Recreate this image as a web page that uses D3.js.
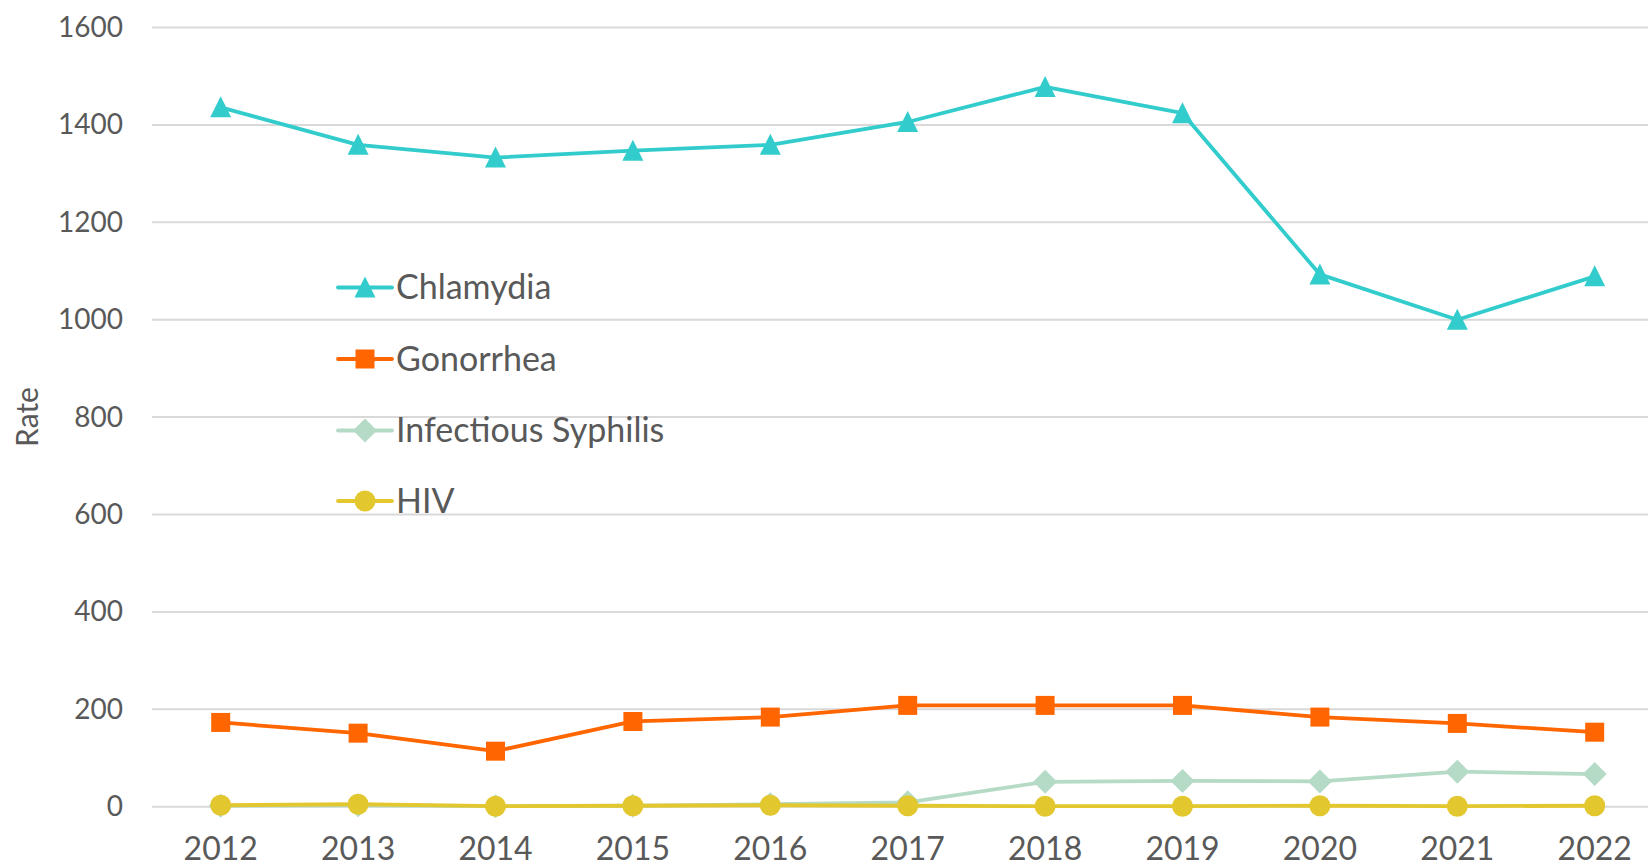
<!DOCTYPE html>
<html lang="en">
<head>
  <meta charset="UTF-8" />
  <title>STI Rates</title>
  <script src="https://d3js.org/d3.v7.min.js"></script>
  <style>
    html, body {
      margin: 0;
      padding: 0;
      background: #fff;
      overflow: hidden;
    }
    svg {
      display: block;
      font-family: Lato, "Open Sans", sans-serif;
    }
  </style>
</head>
<body>
  <svg id="chart" width="1648" height="868"></svg>

  <script>
    const years = ["2012", "2013", "2014", "2015", "2016", "2017", "2018", "2019", "2020", "2021", "2022"];
    const chlamydia = [1436, 1359, 1333, 1347, 1359, 1406, 1478, 1424, 1093, 1000, 1089];
    const gonorrhea = [173, 151, 114, 175, 184, 208, 208, 208, 184, 171, 153];
    const syphilis = [2, 3, 1, 2, 5, 9, 51, 53, 52, 72, 67];
    const hiv = [3, 5, 1, 2, 3, 2, 1, 1, 2, 1, 2];
    const yTicks = [0, 200, 400, 600, 800, 1000, 1200, 1400, 1600];

    const series = [
      { name: "Chlamydia", values: chlamydia, color: "#33CCCC", symbol: "triangle" },
      { name: "Gonorrhea", values: gonorrhea, color: "#FF6600", symbol: "square" },
      { name: "Infectious Syphilis", values: syphilis, color: "#B5DBC6", symbol: "diamond" },
      { name: "HIV", values: hiv, color: "#E3C72F", symbol: "circle" }
    ];

    const svg = d3.select("#chart");
    const textColor = "#595959";

    const x = d3.scaleBand()
      .domain(years)
      .range([152, 152 + 11 * 137.4]);

    const y = d3.scaleLinear()
      .domain([0, 1600])
      .range([806.7, 27.5]);

    const cx = d => x(d) + x.bandwidth() / 2;

    // gridlines
    svg.append("g")
      .selectAll("line")
      .data(yTicks)
      .enter()
      .append("line")
      .attr("x1", 152)
      .attr("x2", 1648)
      .attr("y1", d => y(d))
      .attr("y2", d => y(d))
      .attr("stroke", "#D9D9D9")
      .attr("stroke-width", 2);

    // y axis labels
    const yAxis = svg.append("g")
      .attr("transform", "translate(152,0)")
      .call(d3.axisLeft(y).tickValues(yTicks).tickFormat(d3.format("d")).tickSize(0).tickPadding(29));
    yAxis.select(".domain").remove();
    yAxis.selectAll("text")
      .attr("font-size", "28px")
      .attr("font-family", "Lato, sans-serif")
      .attr("fill", textColor);

    // x axis labels (kept just inside the bottom edge)
    const xAxis = svg.append("g")
      .attr("transform", "translate(0,806.7)")
      .call(d3.axisBottom(x).tickSize(0).tickPadding(31));
    xAxis.select(".domain").remove();
    xAxis.selectAll("text")
      .attr("font-size", "32px")
      .attr("font-family", "Lato, sans-serif")
      .attr("fill", textColor);

    // axis title
    svg.append("text")
      .attr("transform", "translate(38,417) rotate(-90)")
      .attr("text-anchor", "middle")
      .attr("font-size", "30px")
      .attr("fill", textColor)
      .text("Rate");

    function symbolPath(kind, cx0, cy0) {
      const p = d3.path();
      if (kind === "triangle") {
        p.moveTo(cx0, cy0 - 11);
        p.lineTo(cx0 + 10.5, cy0 + 10);
        p.lineTo(cx0 - 10.5, cy0 + 10);
        p.closePath();
      } else if (kind === "square") {
        p.rect(cx0 - 9.5, cy0 - 9.5, 19, 19);
      } else if (kind === "diamond") {
        p.moveTo(cx0, cy0 - 12);
        p.lineTo(cx0 + 12, cy0);
        p.lineTo(cx0, cy0 + 12);
        p.lineTo(cx0 - 12, cy0);
        p.closePath();
      } else {
        p.arc(cx0, cy0, 10.5, 0, 2 * Math.PI);
      }
      return p.toString();
    }

    const line = d3.line()
      .x((d, i) => cx(years[i]))
      .y(d => y(d));

    series.forEach(s => {
      const g = svg.append("g");
      g.append("path")
        .datum(s.values)
        .attr("d", line)
        .attr("fill", "none")
        .attr("stroke", s.color)
        .attr("stroke-width", 3.8)
        .attr("stroke-linejoin", "round");

      g.selectAll("path.marker")
        .data(s.values)
        .enter()
        .append("path")
        .attr("class", "marker")
        .attr("d", (d, i) => symbolPath(s.symbol, cx(years[i]), y(d)))
        .attr("fill", s.color);
    });

    // legend
    const legendY = [287.5, 359, 430.5, 501];
    const legend = svg.append("g");
    series.forEach((s, i) => {
      const ly = legendY[i];
      legend.append("line")
        .attr("x1", 338)
        .attr("x2", 392)
        .attr("y1", ly)
        .attr("y2", ly)
        .attr("stroke", s.color)
        .attr("stroke-width", 3.8)
        .attr("stroke-linecap", "round");
      legend.append("path")
        .attr("d", symbolPath(s.symbol, 365, ly))
        .attr("fill", s.color);
      legend.append("text")
        .attr("x", 396)
        .attr("y", ly)
        .attr("dy", "0.35em")
        .attr("font-size", "34px")
        .attr("fill", textColor)
        .text(s.name);
    });
  </script>
</body>
</html>
